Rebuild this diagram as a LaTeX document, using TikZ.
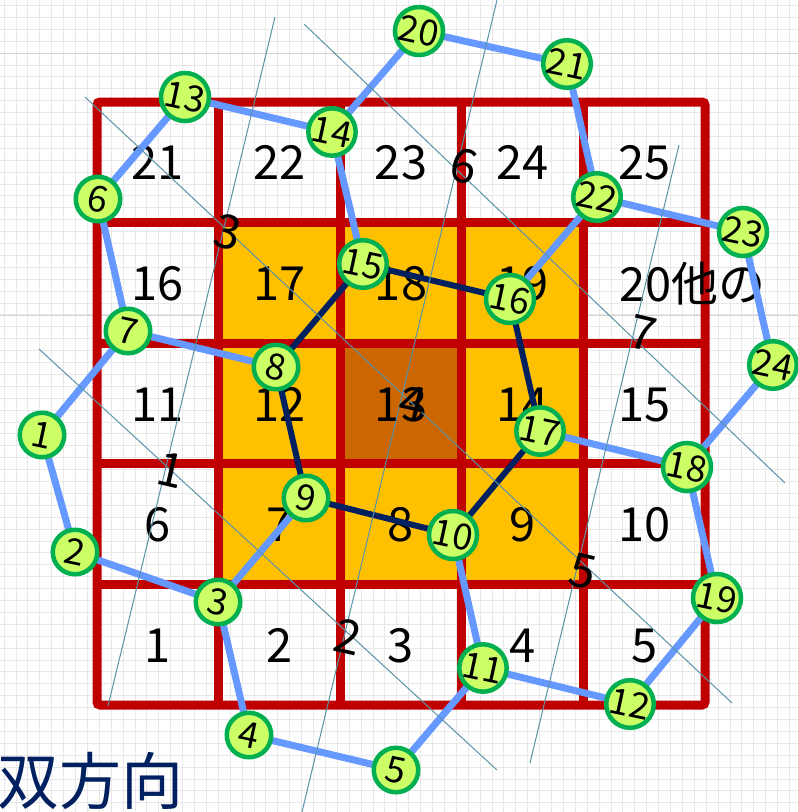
\documentclass[tikz,border=0pt]{standalone}
\usepackage{fontspec}
\setmainfont{Noto Sans CJK JP}
\definecolor{cellred}{HTML}{C00000}
\definecolor{cellorange}{HTML}{FFC000}
\definecolor{celldark}{HTML}{CC6600}
\definecolor{edgeblue}{HTML}{6699FF}
\definecolor{edgenavy}{HTML}{002060}
\definecolor{nodegreen}{HTML}{00B050}
\definecolor{nodefill}{HTML}{CCFF66}
\definecolor{thinline}{HTML}{5B93A6}
\pgfdeclarelayer{bglayer}
\pgfdeclarelayer{edgelayer}
\pgfsetlayers{bglayer,edgelayer,main}
\tikzset{
  gridminor/.style={draw=black!9, line width=0.8},
  gridmajor/.style={draw=black!18, line width=1},
  redgrid/.style={draw=cellred, line width=9},
  cellnum/.style={anchor=base, inner sep=0, font=\fontsize{47}{47}\selectfont},
  isect/.style={inner sep=0, rotate=-13, font=\fontsize{47}{47}\selectfont},
  vert/.style={circle, draw=nodegreen, fill=nodefill, line width=4.5, minimum size=44.5, inner sep=0, rotate=-12, font=\fontsize{36}{36}\selectfont},
  blueedge/.style={draw=edgeblue, line width=7},
  navyedge/.style={draw=edgenavy, line width=6},
  thin/.style={draw=thinline, line width=1},
}
\begin{document}
\begin{tikzpicture}[x=1pt,y=-1pt]
\useasboundingbox (0,0) rectangle (798,812);
\begin{pgfonlayer}{bglayer}
  \fill[white] (0,0) rectangle (798,812);
  \foreach \k in {0,...,68} {
    \draw[gridminor] (0,{5.4+\k*11.9}) -- (798,{5.4+\k*11.9});
    \draw[gridminor] ({4+\k*11.9},0) -- ({4+\k*11.9},812);
  }
  \draw[gridmajor] (0,53) -- (798,53);
  \draw[gridmajor] (0,315) -- (798,315);
  % cells
  \fill[cellorange] (218.6,222.6) rectangle (583.4,584.4);
  \fill[celldark] (340.2,343.2) rectangle (461.8,463.8);
  \foreach \x in {218.6,340.2,461.8,583.4}
    \draw[redgrid] (\x,102) -- (\x,705);
  \foreach \y in {222.6,343.2,463.8,584.4}
    \draw[redgrid] (97,\y) -- (705,\y);
  \draw[redgrid, rounded corners=3] (97,102) rectangle (705,705);
  % cell numbers
  \foreach \r in {0,...,4}
    \foreach \c in {0,...,4} {
      \pgfmathtruncatemacro{\n}{5*\r+\c+1}
      \ifnum\n=20\else
      \node[cellnum] (c\n) at ({97+121.6*(\c+0.5)}, {705-120.6*(\r+0.5)+17.5}) {\n};
      \fi
    }
  \node[cellnum, anchor=base west] (c20) at (619,301) {20他の};
  \node[anchor=base west, inner sep=0, text=edgenavy, font=\fontsize{62}{62}\selectfont] (title) at (-3,804) {双方向};
\end{pgfonlayer}

% vertices
\node[vert] (n1) at (42,435) {1};
\node[vert] (n2) at (75,552) {2};
\node[vert] (n3) at (218,602) {3};
\node[vert] (n4) at (249,735) {4};
\node[vert] (n5) at (396,770) {5};
\node[vert] (n6) at (98,199) {6};
\node[vert] (n7) at (128,331) {7};
\node[vert] (n8) at (276,367) {8};
\node[vert] (n9) at (306,498) {9};
\node[vert] (n10) at (453,535) {10};
\node[vert] (n11) at (483,668) {11};
\node[vert] (n12) at (630,704) {12};
\node[vert] (n13) at (185,97) {13};
\node[vert] (n14) at (332,132) {14};
\node[vert] (n15) at (363,264) {15};
\node[vert] (n16) at (510,299) {16};
\node[vert] (n17) at (540,431) {17};
\node[vert] (n18) at (687,467) {18};
\node[vert] (n19) at (717,598) {19};
\node[vert] (n20) at (419,31) {20};
\node[vert] (n21) at (567,64) {21};
\node[vert] (n22) at (597,197) {22};
\node[vert] (n23) at (743,232) {23};
\node[vert] (n24) at (773,365) {24};

\begin{pgfonlayer}{edgelayer}
  \foreach \a/\b in {n1/n2,n2/n3,n3/n4,n4/n5,n5/n11,n11/n12,n12/n19,n19/n18,n18/n24,n24/n23,n23/n22,n22/n21,n21/n20,n20/n14,n14/n13,n13/n6,n6/n7,n7/n1,n7/n8,n3/n9,n10/n11,n17/n18,n14/n15,n22/n16}
    \draw[blueedge] (\a.center) -- (\b.center);
  \foreach \a/\b in {n8/n15,n15/n16,n16/n17,n17/n10,n10/n9,n9/n8}
    \draw[navyedge] (\a.center) -- (\b.center);
  % thin lines
  \coordinate (a1) at (108,706); \coordinate (a2) at (275,17);
  \coordinate (b1) at (302,812); \coordinate (b2) at (497,0);
  \coordinate (cc1) at (530,763); \coordinate (cc2) at (679,145);
  \coordinate (d1) at (39,349); \coordinate (d2) at (497,770);
  \coordinate (e1) at (85,97); \coordinate (e2) at (732,703);
  \coordinate (f1) at (304,24); \coordinate (f2) at (785,483);
  \draw[thin] (a1) -- (a2);
  \draw[thin] (b1) -- (b2);
  \draw[thin] (cc1) -- (cc2);
  \draw[thin] (d1) -- (d2);
  \draw[thin] (e1) -- (e2);
  \draw[thin] (f1) -- (f2);
  % intersection labels
  \node[isect] (i1) at (171,470) {1};
  \node[isect] (i2) at (348,637) {2};
  \node[isect] (i3) at (228,232) {3};
  \node[isect] (i4) at (413,403) {4};
  \node[isect] (i5) at (583,571) {5};
  \node[isect] (i6) at (464,166) {6};
  \node[isect] (i7) at (643,333) {7};
\end{pgfonlayer}
\end{tikzpicture}
\end{document}
